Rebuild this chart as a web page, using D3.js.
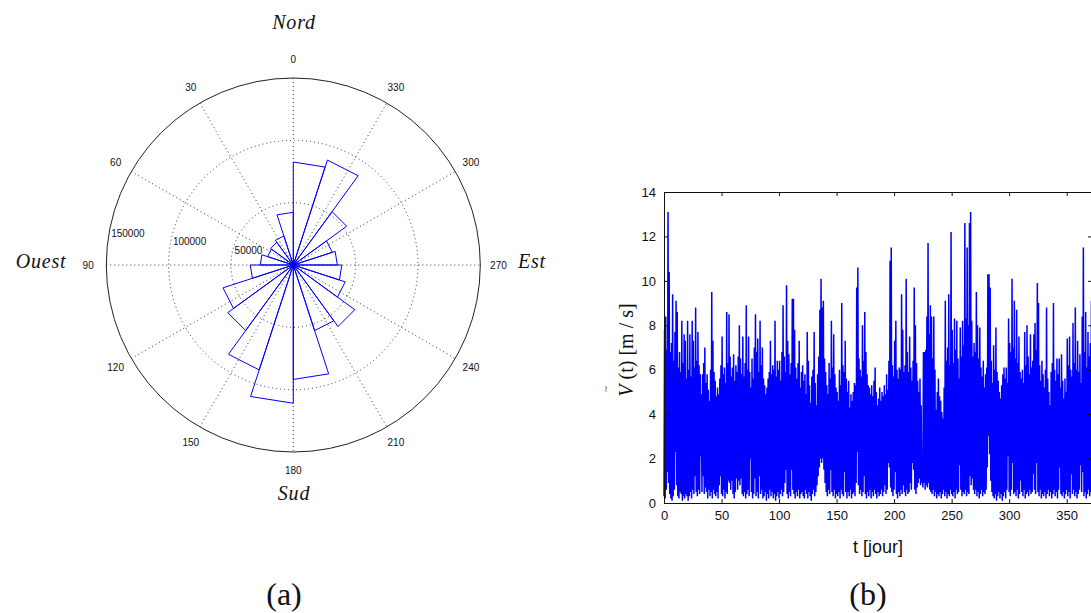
<!DOCTYPE html>
<html><head><meta charset="utf-8">
<script src="https://cdn.jsdelivr.net/npm/d3@7/dist/d3.min.js"></script>
<style>body{margin:0;background:#fff}svg{display:block}</style>
</head><body>
<svg id="chart" width="1091" height="613"></svg>
<script>
// ---------- (a) rose diagram data ----------
const roseBinStart = [0,18,36,54,72,90,108,126,144,162,180,198,216,234,252,270,288,306,324,342];
const roseBinWidth = 18;
const roseCounts = [42300,24500,22500,21700,26500,34500,59300,65000,88500,110900,
                    91800,55300,61000,43800,38900,35300,32900,52900,88500,82600];
const angleTicks = [0,30,60,90,120,150,180,210,240,270,300,330];
const radialTicks = [50000,100000,150000];
const compassNames = ["Nord","Ouest","Sud","Est"];
const compassAngles = [0,90,180,270];

// ---------- (b) wind speed time series (daily max / min) ----------
const dayMax = [
7.8,8.4,6.9,13.1,10.4,6.8,7.2,9.4,6.4,7.7,
9.1,8.6,6.1,6.8,5.9,8.2,6.3,7.6,7.3,5.6,
8.2,6.0,7.6,5.7,8.2,7.3,6.1,8.8,6.4,7.7,
6.2,5.8,4.9,5.8,6.3,7.0,5.4,5.8,5.1,4.6,
6.0,9.5,7.3,5.9,5.5,4.8,5.2,4.9,5.6,6.2,
7.5,5.8,6.1,5.4,8.6,6.3,8.5,6.6,5.7,6.1,
6.7,5.5,6.2,5.9,6.6,8.0,6.5,5.8,7.5,5.7,
6.3,8.9,6.0,7.5,5.9,5.2,6.5,5.6,7.0,8.5,
6.8,7.4,5.9,8.2,6.2,7.0,5.6,5.3,4.9,5.2,
5.6,5.9,7.3,5.8,6.2,6.0,8.2,5.7,6.4,6.0,
6.4,5.5,6.8,8.9,6.6,5.9,9.8,7.3,6.7,5.8,
6.3,9.2,9.2,7.8,6.1,5.6,6.3,7.3,5.2,5.9,
6.2,5.5,5.8,4.9,7.7,6.4,5.3,4.5,5.7,6.0,
7.7,5.4,4.4,5.8,6.6,8.7,10.1,8.8,9.1,6.5,
5.9,5.3,4.9,6.3,5.6,8.2,6.1,7.6,5.8,5.2,
5.0,4.6,6.0,5.3,9.0,6.2,5.9,7.3,5.6,5.0,
5.5,4.3,4.9,4.6,5.0,5.4,5.3,9.7,10.6,6.5,
6.0,5.7,8.0,6.4,8.6,6.8,5.8,5.3,5.2,4.9,
5.3,4.8,5.5,6.1,5.0,4.4,4.7,5.2,4.6,5.0,
4.8,5.3,4.9,5.8,5.1,6.4,10.9,11.5,6.2,5.7,
7.3,8.2,6.0,5.6,6.1,6.0,9.4,7.8,5.9,6.2,
10.1,6.8,5.9,7.5,6.1,5.5,6.4,9.7,8.0,6.3,
5.5,5.0,5.6,4.4,1.9,6.8,6.8,6.9,8.4,11.7,
7.6,8.9,8.4,6.5,8.4,6.0,4.2,5.0,5.6,4.8,
4.6,4.1,3.8,5.2,9.1,6.4,7.0,9.4,6.2,12.2,
7.8,6.3,8.3,6.9,8.2,6.5,5.6,7.9,6.6,8.2,
7.1,12.6,8.3,11.5,8.0,12.6,13.1,8.2,6.6,7.2,
6.8,9.5,8.0,6.5,7.9,6.1,5.7,6.4,5.2,5.8,
6.1,10.3,10.3,9.7,6.4,5.4,7.1,6.0,7.9,5.9,
5.5,5.0,4.7,5.3,5.8,6.1,5.6,6.1,5.4,8.3,
7.2,6.8,10.1,7.0,9.1,6.5,8.7,6.3,7.5,5.9,
5.6,6.0,5.4,7.7,6.2,8.0,6.6,5.8,7.6,6.1,
6.4,7.6,8.1,6.9,9.9,9.0,6.2,5.5,6.4,5.8,
5.2,6.0,8.8,5.6,5.0,4.4,5.9,6.3,9.0,6.0,
5.5,6.5,5.8,6.5,5.2,6.7,5.5,4.7,5.6,5.0,
7.4,6.2,7.5,6.0,5.7,8.1,6.3,8.8,6.0,7.3,
5.9,6.7,5.4,8.4,11.5,6.8,8.6,6.1,7.7,6.6,7.2,9.1];
const dayMin = [
0.3,0.2,0.6,1.4,0.9,0.4,0.2,0.1,0.3,0.6,
2.3,0.8,0.3,0.2,0.5,0.4,0.1,0.3,0.2,0.4,
0.3,0.1,0.3,0.5,0.2,0.6,0.4,1.2,0.5,0.3,
0.6,0.4,2.1,0.5,1.2,0.4,0.7,0.5,0.2,0.6,
0.3,0.5,0.2,0.6,0.4,0.3,0.5,0.2,0.8,1.2,
0.4,0.3,0.6,0.2,0.5,0.4,1.0,0.9,0.6,1.0,
0.4,0.2,0.5,1.1,0.6,1.0,0.8,1.1,0.4,0.3,
0.5,0.2,0.4,0.6,0.3,2.0,0.5,0.2,0.4,1.1,
0.3,0.5,0.2,1.2,0.4,0.6,0.2,0.3,0.5,0.1,
0.4,0.2,0.6,0.3,0.5,0.2,0.4,0.1,0.3,0.5,
0.2,0.4,0.6,0.3,0.5,0.9,1.5,0.4,0.2,0.5,
0.3,1.5,0.6,0.4,0.2,0.5,0.3,0.6,0.2,0.4,
0.5,0.3,0.2,0.6,0.4,0.2,0.5,0.3,0.1,0.4,
0.6,0.3,0.5,0.8,1.2,1.6,2.0,1.8,2.0,1.5,
0.9,0.5,0.3,0.6,0.4,1.5,0.5,0.3,0.6,0.2,
0.4,0.3,0.5,0.2,0.6,0.4,0.3,1.4,0.5,0.2,
0.5,0.3,0.6,0.2,0.4,0.5,0.3,0.9,2.3,0.8,
0.4,0.6,0.3,0.5,1.2,0.4,0.2,0.5,0.3,0.6,
0.2,0.5,0.3,0.6,0.4,0.2,0.5,0.3,0.4,0.6,
0.3,0.5,0.8,0.4,0.6,1.8,1.6,0.7,0.5,0.3,
0.6,1.4,0.4,0.2,0.5,0.3,0.6,0.4,0.8,0.5,
0.3,0.6,0.4,0.5,0.9,0.6,1.8,1.5,0.6,0.4,
0.7,0.9,1.1,0.8,0.9,0.7,0.9,0.6,0.8,0.7,
0.9,0.6,0.5,0.4,0.6,0.3,0.5,0.2,0.4,0.3,
0.5,0.2,0.4,0.6,0.3,0.5,0.2,0.4,0.3,0.6,
0.4,0.3,0.5,0.2,0.6,0.4,0.5,1.7,0.6,0.3,
0.5,0.4,0.6,0.3,0.5,0.4,1.2,0.8,1.1,0.6,
0.4,0.6,0.3,0.5,0.2,0.4,0.6,0.3,0.5,0.4,
0.6,1.6,3.0,2.2,1.0,0.5,0.3,0.2,0.4,0.1,
0.3,0.5,0.2,0.4,0.1,0.3,0.5,0.2,0.6,2.1,
0.5,0.3,0.6,1.8,0.4,0.5,0.3,0.6,0.2,0.4,
1.0,0.5,0.3,0.6,0.2,0.4,0.5,0.3,0.6,0.4,
0.5,1.3,0.6,0.4,1.8,0.5,0.3,0.6,0.2,0.4,
0.3,0.5,0.2,0.4,0.6,0.3,0.5,0.2,0.4,0.6,
0.3,0.5,0.2,0.6,1.6,0.4,0.3,0.5,0.2,0.4,
0.6,0.3,0.5,0.2,1.3,0.4,0.6,0.3,0.5,0.2,
0.4,0.6,1.7,0.5,1.4,0.3,0.5,0.2,0.4,0.6,0.3,0.5];
const xTicks = [0,50,100,150,200,250,300,350];
const yTicks = [0,2,4,6,8,10,12,14];
const xDomain = [0,372];
const yDomain = [0,14];
const xLabel = "t [jour]";
const panelLabels = ["(a)","(b)"];

// ---------- drawing ----------
const svg = d3.select("#chart");
const SERIF = "'Liberation Serif','DejaVu Serif',serif";
const SANS = "'Liberation Sans',Arial,sans-serif";
const BLUE = "#0000ff";

// ===== Panel (a) =====
const cx = 293.3, cy = 265, R = 187;
const r = d3.scaleLinear().domain([0, 150000]).range([0, R]);
const toRad = a => a * Math.PI / 180;
// data angle measured counter-clockwise from North (0 top, 90 left)
const px = (a, rad) => cx - rad * Math.sin(toRad(a));
const py = (a, rad) => cy - rad * Math.cos(toRad(a));

const gA = svg.append("g");
gA.selectAll("circle.ring").data(radialTicks.slice(0, -1)).join("circle")
  .attr("cx", cx).attr("cy", cy).attr("r", d => r(d))
  .attr("fill", "none").attr("stroke", "#333").attr("stroke-width", 1)
  .attr("stroke-dasharray", "1,3");
gA.selectAll("line.spoke").data(angleTicks.filter(a => a < 180)).join("line")
  .attr("x1", d => px(d, R)).attr("y1", d => py(d, R))
  .attr("x2", d => px(d + 180, R)).attr("y2", d => py(d + 180, R))
  .attr("stroke", "#333").attr("stroke-width", 1).attr("stroke-dasharray", "1,3");
gA.append("circle").attr("cx", cx).attr("cy", cy).attr("r", r(radialTicks[radialTicks.length - 1]))
  .attr("fill", "none").attr("stroke", "#222").attr("stroke-width", 1);
gA.selectAll("text.ang").data(angleTicks).join("text")
  .attr("x", d => px(d, R * 1.097)).attr("y", d => py(d, R * 1.097))
  .attr("text-anchor", "middle").attr("dominant-baseline", "central")
  .attr("font-family", SANS).attr("font-size", 10).attr("fill", "#111")
  .text(d => String(d));
gA.selectAll("text.rad").data(radialTicks).join("text")
  .attr("x", d => px(82, r(d) + 3) + 6).attr("y", d => py(82, r(d) + 3) - 2)
  .attr("text-anchor", "start")
  .attr("font-family", SANS).attr("font-size", 10).attr("fill", "#111")
  .text(d => String(d));
const radial = d3.lineRadial()
  .angle(d => -toRad(d.a))
  .radius(d => r(d.v));
const wedges = roseBinStart.map((a, i) => [
  {a: a, v: 0}, {a: a, v: roseCounts[i]}, {a: a + roseBinWidth, v: roseCounts[i]}, {a: a + roseBinWidth, v: 0}
]);
gA.append("g").attr("transform", `translate(${cx},${cy})`)
  .selectAll("path").data(wedges).join("path")
  .attr("d", d => radial(d))
  .attr("fill", "none").attr("stroke", BLUE).attr("stroke-width", 1);
const compassPos = [[294, 29], [41, 268], [294, 500], [532, 268]];
gA.selectAll("text.cmp").data(compassNames).join("text")
  .attr("x", (d, i) => compassPos[i][0]).attr("y", (d, i) => compassPos[i][1])
  .attr("text-anchor", "middle").attr("font-family", SERIF)
  .attr("font-style", "italic").attr("font-size", 20).attr("letter-spacing", 0.8)
  .attr("fill", "#111").text(d => d);

// ===== Panel (b) =====
const x = d3.scaleLinear().domain(xDomain).range([664, 1092]);
const y = d3.scaleLinear().domain(yDomain).range([503, 192]);
const gB = svg.append("g");

const pts = [];
dayMax.forEach((m, i) => { pts.push([i, dayMin[i]]); pts.push([i + 0.5, m]); });
const line = d3.line().x(d => x(d[0])).y(d => y(d[1]));
gB.append("path").attr("d", line(pts))
  .attr("fill", "none").attr("stroke", BLUE).attr("stroke-width", 1.5)
  .attr("stroke-linejoin", "miter").attr("stroke-miterlimit", 1);

const axisBottom = d3.axisBottom(x).tickValues(xTicks).tickSizeInner(-4).tickSizeOuter(0).tickPadding(8);
const axisTop = d3.axisTop(x).tickValues(xTicks).tickSizeInner(-4).tickSizeOuter(0).tickFormat("");
const axisLeft = d3.axisLeft(y).tickValues(yTicks).tickSizeInner(-4).tickSizeOuter(0).tickPadding(8);
const axisRight = d3.axisRight(y).tickValues(yTicks).tickSizeInner(-4).tickSizeOuter(0).tickFormat("");
function styleAxis(g) {
  g.selectAll("path.domain").attr("stroke", "#111").attr("stroke-width", 1);
  g.selectAll(".tick line").attr("stroke", "#111");
  g.selectAll(".tick text").attr("font-family", SANS).attr("font-size", 13).attr("fill", "#111");
}
gB.append("g").attr("transform", "translate(0,503)").call(axisBottom).call(styleAxis);
gB.append("g").attr("transform", "translate(0,192)").call(axisTop).call(styleAxis);
gB.append("g").attr("transform", "translate(664,0)").call(axisLeft).call(styleAxis);
gB.append("g").attr("transform", "translate(1092,0)").call(axisRight).call(styleAxis);

gB.append("text").attr("x", 878).attr("y", 553).attr("text-anchor", "middle")
  .attr("font-family", SANS).attr("font-size", 18).attr("fill", "#111").text(xLabel);
const yl = gB.append("g").attr("transform", "translate(633,350) rotate(-90)");
const ylt = yl.append("text").attr("text-anchor", "middle")
  .attr("font-family", SERIF).attr("font-size", 20).attr("fill", "#111");
ylt.append("tspan").attr("font-style", "italic").text("V");
ylt.append("tspan").text(" (t) [m / s]");
yl.append("text").attr("x", -39).attr("y", -24).attr("text-anchor", "middle")
  .attr("font-family", SERIF).attr("font-size", 11).attr("fill", "#111").text("~");

svg.selectAll("text.panel").data(panelLabels).join("text")
  .attr("x", (d, i) => [284, 868][i]).attr("y", 605)
  .attr("text-anchor", "middle").attr("font-family", SERIF).attr("font-size", 32)
  .attr("fill", "#111").text(d => d);
</script>
</body></html>
